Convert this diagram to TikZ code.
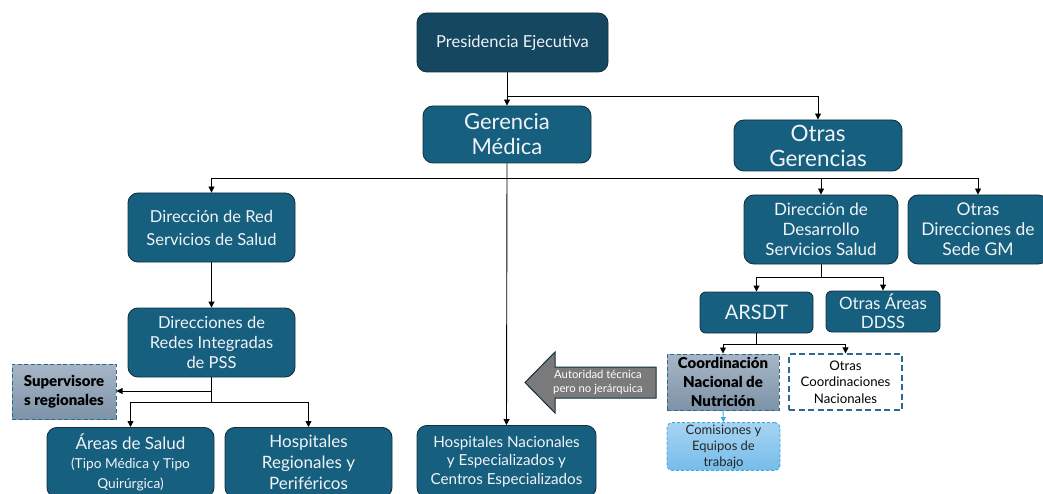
\documentclass[tikz,border=0pt]{standalone}
\usepackage{fontspec}
\setmainfont{Lato}
\newfontface\heavyface{Lato Black}
\usetikzlibrary{arrows.meta}
\definecolor{topblue}{HTML}{154760}
\definecolor{boxblue}{HTML}{175F7F}
\definecolor{edgeblue}{HTML}{12313F}
\definecolor{dashblue}{HTML}{2A6B8C}
\definecolor{greyA}{HTML}{A7B6C6}
\definecolor{greyB}{HTML}{7E93A8}
\definecolor{skyA}{HTML}{A6D4F2}
\definecolor{skyB}{HTML}{76BCEA}
\definecolor{skyedge}{HTML}{3BA9E6}
\definecolor{txtwhite}{HTML}{F0F4F7}
\tikzset{
  orgbox/.style={draw=edgeblue, line width=0.9pt, fill=boxblue, rounded corners=10pt,
    text=txtwhite, align=center, inner sep=2pt, font=\fontsize{16.5}{20}\selectfont},
  smallbox/.style={orgbox, rounded corners=6pt},
  greybox/.style={draw=dashblue, dash pattern=on 4pt off 2.5pt, line width=1pt,
    top color=greyA, bottom color=greyB,
    text=black, align=center, inner sep=2pt, font=\heavyface\fontsize{15}{19}\selectfont},
  openbox/.style={draw=dashblue, dash pattern=on 6pt off 3.5pt, line width=1.3pt, fill=white, text=black,
    align=center, inner sep=2pt, font=\fontsize{13.2}{16.5}\selectfont},
  skybox/.style={draw=skyedge, dash pattern=on 3pt off 2pt, line width=0.9pt, top color=skyA, bottom color=skyB,
    rounded corners=5pt, text=black!85, align=center, inner sep=2pt,
    font=\fontsize{13}{16}\selectfont},
  link/.style={draw=black, line width=0.9pt},
  arr/.style={link, -{Triangle[length=6pt,width=6pt]}},
}
\begin{document}
\begin{tikzpicture}[x=1pt,y=-1pt]
\useasboundingbox (0,0) rectangle (1043,494);
\clip (0,0) rectangle (1043,494);

% top level
\node[orgbox, fill=topblue, minimum width=191pt, minimum height=59pt,
      font=\fontsize{16.5}{20}\selectfont] (pres) at (512.5,42.5) {Presidencia Ejecutiva};
\node[orgbox, minimum width=168pt, minimum height=57pt,
      font=\fontsize{22}{25}\selectfont] (gm) at (507,134.5) {Gerencia\\Médica};
\node[orgbox, minimum width=168pt, minimum height=51pt,
      font=\fontsize{22.5}{25}\selectfont] (og) at (818,145.5) {Otras\\Gerencias};

% second level
\node[orgbox, minimum width=167pt, minimum height=69pt, font=\fontsize{16.5}{23}\selectfont] (dr) at (211.5,227.5)
  {Dirección de Red\\Servicios de Salud};
\node[orgbox, minimum width=154pt, minimum height=69pt, font=\fontsize{17}{20}\selectfont] (ddss) at (821,229.5)
  {Dirección de\\Desarrollo\\Servicios Salud};
\node[orgbox, minimum width=140pt, minimum height=69pt, font=\fontsize{17.5}{20}\selectfont] (od) at (978,229.5)
  {Otras\\Direcciones de\\Sede GM};

% left branch
\node[orgbox, minimum width=167pt, minimum height=69pt] (rip) at (211.5,342.5)
  {Direcciones de\\Redes Integradas\\de PSS};
\node[greybox, minimum width=104pt, minimum height=55pt] (sup) at (64,391.5)
  {Supervisore\\s regionales};
\node[orgbox, minimum width=167pt, minimum height=70pt, anchor=north, font=\fontsize{17}{20}\selectfont] (as) at (130.5,427)
  {Áreas de Salud\\[-1pt]{\fontsize{13.7}{17}\selectfont (Tipo Médica y Tipo}\\{\fontsize{13.7}{17}\selectfont Quirúrgica)}};
\node[orgbox, minimum width=167pt, minimum height=70pt, anchor=north, font=\fontsize{17}{21}\selectfont] (hr) at (308.5,427)
  {Hospitales\\Regionales y\\Periféricos};
\node[orgbox, minimum width=179pt, minimum height=72pt, anchor=north, font=\fontsize{15.2}{18.5}\selectfont] (hn) at (506.5,425)
  {Hospitales Nacionales\\y Especializados y\\Centros Especializados};

% right branch
\node[smallbox, minimum width=113pt, minimum height=41pt,
      font=\fontsize{20}{22}\selectfont] (ars) at (756.5,312.5) {ARSDT};
\node[smallbox, minimum width=114pt, minimum height=41pt,
      font=\fontsize{17}{19}\selectfont] (oa) at (883,311.5) {Otras Áreas\\DDSS};
\node[greybox, minimum width=112pt, minimum height=56pt] (cnn) at (723,382)
  {Coordinación\\Nacional de\\Nutrición};
\node[openbox, minimum width=113pt, minimum height=56pt] (oc) at (845.5,382)
  {Otras\\Coordinaciones\\Nacionales};
\node[skybox, minimum width=113pt, minimum height=43pt] (com) at (723.5,446.5)
  {Comisiones y\\Equipos de\\trabajo};

% technical authority arrow, pointing left
\draw[draw=edgeblue, line width=1pt, fill=black!52, line join=miter]
  (656,367) -- (555,367) -- (555,352) -- (525,382.5) -- (555,413) -- (555,398)
  -- (656,398) -- cycle;
\node[text=white, align=center, font=\fontsize{11.3}{14}\selectfont] (authtxt) at (598,382.5)
  {Autoridad técnica\\pero no jerárquica};

% connectors
\coordinate (j1) at (507,96);
\coordinate (j2) at (507,178);
\draw[arr] (gm.north |- pres.south) -- (gm.north);
\draw[arr] (j1) -| (og.north);
\draw[arr] (gm.south) -- (hn.north);
\draw[arr] (j2) -| (dr.north);
\draw[arr] (j2) -| (ddss.north);
\draw[arr] (j2) -| (od.north);
\draw[arr] (dr.south) -- (rip.north);

\coordinate (j3) at (211.5,391);
\coordinate (j4) at (211.5,402);
\draw[link] (rip.south) -- (j4);
\draw[arr] (j3) -- (sup.east |- j3);
\draw[arr] (j4) -| (as.north);
\draw[arr] (j4) -| (hr.north);

\coordinate (j5) at (821,277);
\draw[link] (ddss.south) -- (j5);
\draw[arr] (j5) -| (ars.north);
\draw[arr] (j5) -| (oa.north);

\coordinate (j6) at (756.5,344);
\draw[link] (ars.south) -- (j6);
\draw[arr] (j6) -| (cnn.north);
\draw[arr] (j6) -| (oc.north);

\draw[draw=skyedge, line width=0.9pt, -{Triangle[length=5pt,width=5pt]}] (cnn.south) -- (com.north);
\end{tikzpicture}
\end{document}
